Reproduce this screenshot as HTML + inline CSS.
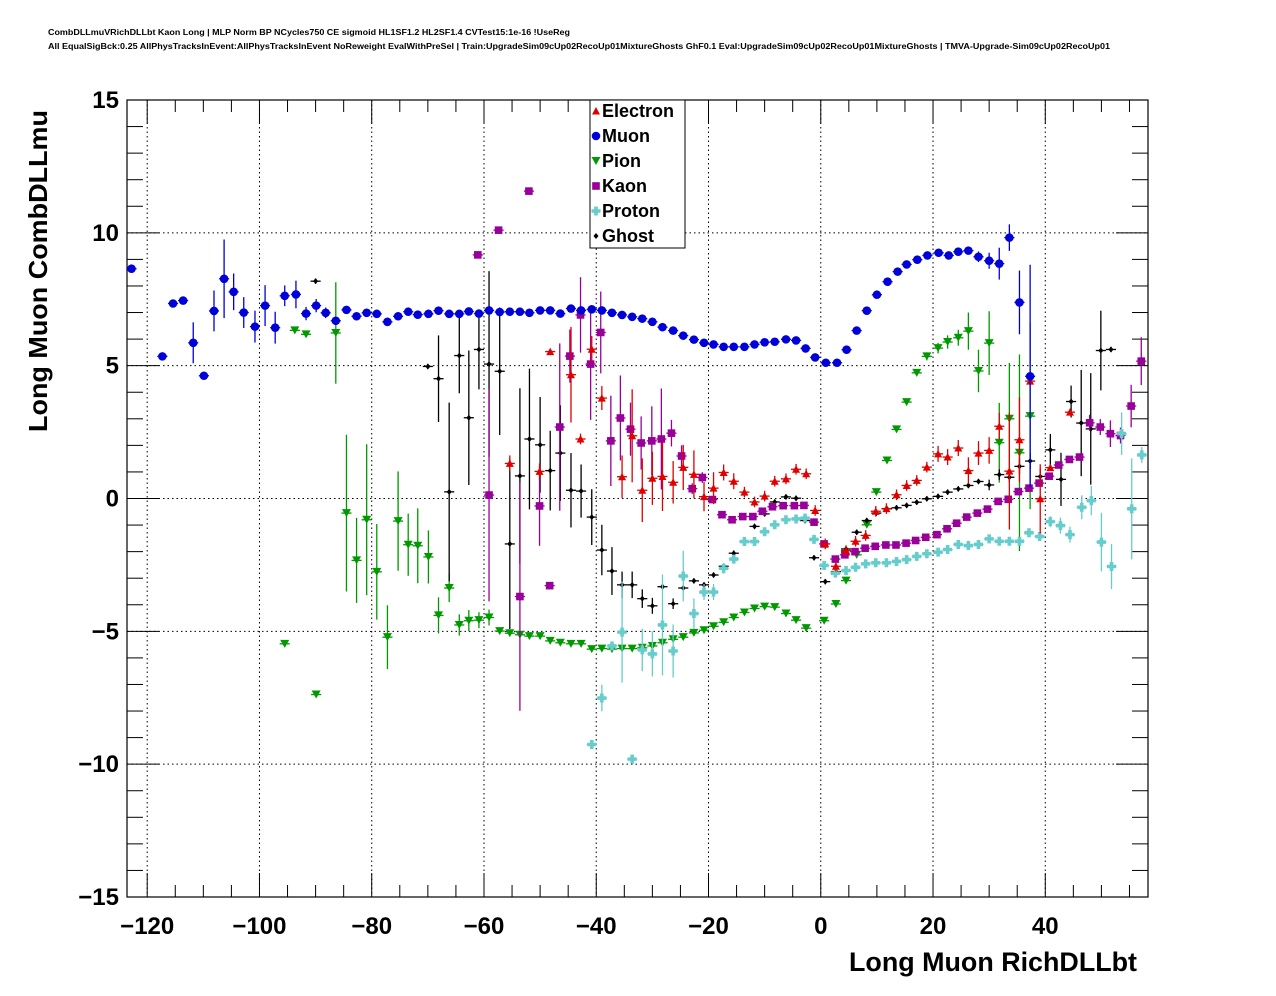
<!DOCTYPE html>
<html><head><meta charset="utf-8"><style>
html,body{margin:0;padding:0;background:#fff;}
svg{display:block;font-family:"Liberation Sans",Arial,sans-serif;}
</style></head><body>
<svg id="chart" width="1276" height="996" viewBox="0 0 1276 996" xmlns="http://www.w3.org/2000/svg">
<rect width="1276" height="996" fill="#fff"/>
<text x="48" y="35" font-size="8" font-weight="bold" textLength="522" lengthAdjust="spacingAndGlyphs">CombDLLmuVRichDLLbt Kaon Long | MLP Norm BP NCycles750 CE sigmoid HL1SF1.2 HL2SF1.4 CVTest15:1e-16 !UseReg</text>
<text x="48" y="49" font-size="8" font-weight="bold" textLength="1062" lengthAdjust="spacingAndGlyphs">All EqualSigBck:0.25 AllPhysTracksInEvent:AllPhysTracksInEvent NoReweight EvalWithPreSel | Train:UpgradeSim09cUp02RecoUp01MixtureGhosts GhF0.1 Eval:UpgradeSim09cUp02RecoUp01MixtureGhosts | TMVA-Upgrade-Sim09cUp02RecoUp01</text>
<g id="grid"></g>
<g id="axes"></g>
<g id="marks"></g>
<text transform="translate(47,432) rotate(-90)" font-size="26" font-weight="bold" textLength="322" lengthAdjust="spacingAndGlyphs">Long Muon CombDLLmu</text>
<text x="1137" y="971" font-size="27" font-weight="bold" text-anchor="end" textLength="288" lengthAdjust="spacingAndGlyphs">Long Muon RichDLLbt</text>
<g id="legend"></g>
</svg>
<script>
// axis ranges
const xMin=-123.6, xMax=58.3, yMin=-15, yMax=15;
const xTicks=[-120,-100,-80,-60,-40,-20,0,20,40];
const xTickLabels=["\u2212120","\u2212100","\u221280","\u221260","\u221240","\u221220","0","20","40"];
const yTicks=[-15,-10,-5,0,5,10,15];
const yTickLabels=["\u221215","\u221210","\u22125","0","5","10","15"];

const muonX=[-122.8,-117.3,-115.4,-113.6,-111.8,-109.9,-108.1,-106.3,-104.6,-102.8,-100.8,-99.0,-97.2,-95.5,-93.5,-91.7,-89.9,-88.2,-86.4,-84.5,-82.7,-80.9,-79.1,-77.2,-75.3,-73.5,-71.8,-69.9,-68.1,-66.2,-64.4,-62.7,-60.9,-59.1,-57.2,-55.4,-53.6,-51.9,-50,-48.2,-46.4,-44.5,-42.7,-40.8,-39,-37.2,-35.4,-33.6,-31.8,-30,-28.2,-26.3,-24.5,-22.6,-20.8,-19.1,-17.3,-15.5,-13.6,-11.8,-10,-8.2,-6.2,-4.4,-2.7,-1.0,0.9,2.9,4.6,6.4,8.2,10,11.9,13.7,15.3,17.2,19,21,22.8,24.5,26.3,28.1,30,31.8,33.6,35.4,37.3];
const muonY=[8.65,5.35,7.34,7.45,5.86,4.62,7.06,8.27,7.78,7.0,6.47,7.26,6.43,7.63,7.68,6.96,7.26,6.99,6.69,7.1,6.86,6.99,6.95,6.65,6.86,7.03,6.92,6.95,7.07,6.95,6.95,7.04,6.96,7.08,7.02,7.03,7.03,6.99,7.08,7.08,6.96,7.15,7.08,7.12,7.08,6.99,6.91,6.84,6.77,6.65,6.45,6.32,6.13,5.98,5.86,5.8,5.71,5.71,5.71,5.8,5.88,5.9,5.99,5.95,5.65,5.31,5.11,5.11,5.6,6.32,7.07,7.67,8.16,8.54,8.81,8.99,9.15,9.25,9.15,9.29,9.33,9.1,8.95,8.84,9.82,7.38,4.6];
const muonErr=[0,0,0,0,0.77,0,0.77,1.48,0.69,0.58,0.6,0.77,0.6,0.39,0.52,0.25,0.25,0.2,0.1,0.1,0.1,0.1,0.1,0.1,0.1,0.1,0.1,0.1,0.1,0.1,0.1,0.1,0.1,0.1,0.1,0.1,0.1,0.1,0.1,0.1,0.1,0.1,0.1,0.1,0.1,0.1,0.1,0.1,0.1,0.1,0.1,0.1,0.1,0.1,0.1,0.1,0.1,0.1,0.1,0.1,0.1,0.1,0.1,0.1,0.1,0.1,0.1,0.1,0.1,0.1,0.1,0.1,0.1,0.1,0.1,0.1,0.1,0.1,0.1,0.1,0.1,0.2,0.3,0.6,0.5,1.2,4.2];

const pionX=[-95.5,-93.7,-91.7,-89.9,-86.4,-84.5,-82.7,-80.9,-79.1,-77.2,-75.3,-73.5,-71.8,-69.9,-68.1,-66.2,-64.4,-62.7,-60.9,-59.1,-57.2,-55.4,-53.6,-51.9,-50,-48.2,-46.4,-44.5,-42.7,-40.8,-39,-37.2,-35.4,-33.6,-31.8,-30,-28.2,-26.3,-24.5,-22.6,-20.8,-19.1,-17.3,-15.5,-13.6,-11.8,-10,-8.2,-6.2,-4.4,-2.6,0.6,2.7,4.5,6.4,8.2,9.9,11.8,13.5,15.3,17.1,18.9,20.9,22.6,24.5,26.3,28.1,30,31.8,33.6,35.4,37.3];
const pionY=[-5.47,6.33,6.18,-7.38,6.23,-0.55,-2.33,-0.8,-2.76,-5.22,-0.85,-1.74,-1.78,-2.2,-4.4,-3.37,-4.76,-4.6,-4.58,-4.48,-4.99,-5.07,-5.13,-5.18,-5.18,-5.36,-5.43,-5.47,-5.47,-5.67,-5.65,-5.67,-5.65,-5.65,-5.62,-5.55,-5.43,-5.3,-5.22,-5.06,-4.96,-4.81,-4.66,-4.48,-4.29,-4.14,-4.07,-4.09,-4.33,-4.58,-4.88,-4.6,-3.97,-3.09,-2.12,-0.99,0.24,1.43,2.6,3.63,4.73,5.35,5.66,5.89,6.05,6.3,4.8,5.85,2.1,3.0,1.72,3.1];
const pionErr=[0,0,0,0,1.91,2.95,1.6,2.84,1.8,1.2,1.87,1.17,1.41,1.0,0.68,0.53,0.4,0.4,0.3,0.3,0.1,0.1,0.1,0.1,0.1,0.1,0.1,0.1,0.1,0.1,0.1,0.1,0.1,0.1,0.1,0.1,0.1,0.1,0.1,0.1,0.1,0.1,0.1,0.1,0.1,0.1,0.1,0.1,0.1,0.1,0.1,0.1,0.1,0.1,0.1,0.1,0.1,0.1,0.1,0.1,0.1,0.15,0.2,0.25,0.3,0.7,0.8,1.2,1.5,2.1,3.7,3.5];

const kaonX=[-61.1,-59.1,-57.4,-53.6,-52.0,-50.1,-48.3,-46.5,-44.7,-42.8,-41,-39.2,-37.4,-35.7,-33.9,-32,-30.1,-28.4,-26.6,-24.8,-22.9,-21.1,-19.3,-17.6,-15.8,-13.9,-12.1,-10.4,-8.6,-6.7,-4.7,-3.0,-1.2,0.6,2.6,4.3,6.1,7.9,9.7,11.6,13.4,15.2,16.9,18.7,20.7,22.5,24.2,26.0,27.9,29.7,31.6,33.4,35.2,37.1,38.9,40.7,42.4,44.3,46.1,47.9,49.8,51.6,53.4,55.3,57.1];
const kaonY=[9.17,0.13,10.1,-3.69,11.57,-0.28,-3.28,2.69,5.36,6.91,5.06,6.25,2.17,3.03,2.61,2.09,2.17,2.24,2.46,1.6,0.37,0.79,-0.04,-0.61,-0.8,-0.68,-0.68,-0.48,-0.31,-0.27,-0.27,-0.26,-0.89,-1.71,-2.28,-2.12,-2.0,-1.87,-1.8,-1.75,-1.75,-1.68,-1.58,-1.46,-1.36,-1.14,-0.93,-0.7,-0.55,-0.4,-0.11,-0.03,0.26,0.39,0.58,0.84,1.26,1.47,1.56,2.85,2.69,2.44,2.37,3.48,5.17];
const kaonErr=[0,4.0,0,4.3,0,1.5,0,3.15,1.0,1.42,2.1,1.54,1.7,1.6,1.0,1.0,1.3,1.9,0.5,0.4,0.2,0.2,0.1,0.1,0.1,0.1,0.1,0.1,0.1,0.1,0.1,0.1,0.1,0.1,0.1,0.1,0.1,0.1,0.1,0.1,0.1,0.1,0.1,0.1,0.1,0.1,0.1,0.1,0.1,0.1,0.1,0.1,0.1,0.1,0.1,0.1,0.1,0.1,0.1,0.3,0.3,0.5,0.3,0.8,0.9];

const electronX=[-55.4,-50.1,-48.2,-44.5,-42.8,-40.8,-39,-35.4,-33.6,-31.8,-30,-28.2,-26.3,-24.5,-22.6,-20.8,-19.1,-17.3,-15.5,-13.6,-11.8,-10,-8.2,-6.2,-4.4,-2.6,-1,0.8,2.7,4.5,6.2,8,9.8,11.7,13.5,15.3,17.1,18.9,20.9,22.6,24.5,26.3,28.1,30,31.8,33.6,35.4,37.3,39.1,40.9,44.4];
const electronY=[1.32,1.02,5.53,4.66,2.24,5.62,3.78,0.82,2.36,0.31,0.76,0.83,0.61,1.17,0.91,0.07,0.39,0.98,0.65,0.24,-0.13,0.09,0.65,0.74,1.1,0.93,-0.45,-1.71,-2.55,-1.96,-1.61,-1.39,-0.48,-0.38,0.14,0.49,0.68,1.18,1.68,1.56,1.9,1.05,1.71,1.81,2.72,1.03,2.21,4.42,-0.01,1.16,3.25];
const electronErr=[0.3,0.3,0,1.8,0.2,0.5,0.45,0.8,1.75,1.2,1.0,1.3,0.8,0.85,0.9,0.55,0.6,0.3,0.3,0.2,0.2,0.2,0.2,0.2,0.2,0.2,0.2,0.2,0.2,0.2,0.2,0.2,0.2,0.2,0.2,0.2,0.2,0.2,0.3,0.3,0.3,0.5,0.45,0.5,0.5,2.2,1.6,0.1,1.3,0.1,0.1];

const protonX=[-40.8,-39,-37.2,-35.4,-33.6,-31.8,-30,-28.2,-26.3,-24.5,-22.6,-20.8,-19.1,-17.3,-15.5,-13.6,-11.8,-10,-8.2,-6.2,-4.4,-2.8,-1.2,0.6,2.6,4.5,6.2,8,9.8,11.7,13.5,15.3,17.1,18.9,20.9,22.6,24.5,26.3,28.1,30,31.8,33.6,35.4,37.1,39,40.9,42.7,44.4,46.5,48.2,50,51.8,53.6,55.4,57.2];
const protonY=[-9.26,-7.51,-5.55,-5.03,-9.81,-5.7,-5.85,-4.76,-5.74,-2.92,-4.33,-3.52,-3.52,-2.63,-2.28,-1.62,-1.62,-1.25,-0.99,-0.8,-0.77,-0.74,-1.54,-2.52,-2.81,-2.71,-2.59,-2.46,-2.42,-2.42,-2.37,-2.3,-2.18,-2.08,-2.02,-1.92,-1.73,-1.77,-1.73,-1.52,-1.61,-1.61,-1.61,-1.29,-1.43,-0.87,-1.02,-1.36,-0.33,-0.08,-1.64,-2.56,2.44,-0.39,1.64];
const protonErr=[0.1,0.5,0.1,1.9,0.1,0.8,0.85,1.9,1.0,0.95,0.57,0.3,0.3,0.2,0.15,0.1,0.1,0.1,0.1,0.1,0.1,0.1,0.1,0.1,0.1,0.1,0.1,0.1,0.1,0.1,0.1,0.1,0.1,0.1,0.1,0.1,0.1,0.1,0.1,0.1,0.1,0.1,0.1,0.1,0.1,0.2,0.3,0.3,0.45,0.55,1.1,0.85,0.8,1.9,0.3];

const ghostX=[-90,-70,-68.1,-66.2,-64.4,-62.7,-60.9,-59.1,-57.2,-55.4,-53.6,-51.9,-50,-48.2,-46.4,-44.5,-42.7,-40.8,-39,-37.2,-35.4,-33.6,-31.8,-30,-28.2,-26.3,-24.5,-22.6,-20.8,-19.1,-17.3,-15.5,-13.6,-11.8,-10,-8.2,-6.2,-4.4,-2.8,-1.2,0.8,2.7,4.5,6.4,8.2,9.9,11.8,13.5,15.3,17.1,18.9,20.9,22.6,24.5,26.3,28.1,30,31.8,33.6,35.4,37.3,39.1,40.9,42.8,44.6,46.4,48.1,49.9,51.7];
const ghostY=[8.18,4.97,4.51,0.25,5.38,3.04,5.61,5.06,4.79,-1.71,0.85,2.24,2.02,1.05,1.71,0.31,0.28,-0.7,-1.94,-2.73,-3.25,-3.25,-3.77,-4.04,-3.32,-3.96,-3.37,-3.1,-3.25,-2.88,-2.55,-2.06,-1.62,-1.05,-0.58,-0.13,0.06,0.01,-0.83,-2.23,-3.13,-2.75,-1.9,-1.27,-0.83,-0.55,-0.39,-0.35,-0.26,-0.14,-0.01,0.08,0.24,0.36,0.49,0.64,0.51,0.9,0.8,1.21,1.41,0.83,1.83,0.72,3.65,2.84,2.62,5.57,5.61];
const ghostErr=[0.1,0.1,1.63,3.36,1.42,2.53,1.5,3.5,2.4,3.2,3.3,2.65,1.8,1.5,1.8,1.4,1.0,1.05,0.95,0.9,0.5,0.5,0.35,0.3,0.1,0.2,0.1,0.1,0.1,0.1,0.1,0.1,0.1,0.1,0.1,0.1,0.1,0.1,0.1,0.1,0.1,0.1,0.1,0.1,0.1,0.1,0.1,0.1,0.1,0.1,0.1,0.1,0.1,0.1,0.1,0.1,0.2,0.2,0.2,0.3,0.3,0.3,0.6,1.0,0.6,2.0,2.1,1.5,0.1];

const legendLabels=["Electron","Muon","Pion","Kaon","Proton","Ghost"];

const NS="http://www.w3.org/2000/svg";
const L=127,R=1148,T=100,B=897;
function sx(v){return L+(v-xMin)/(xMax-xMin)*(R-L);}
function sy(v){return B-(v-yMin)/(yMax-yMin)*(B-T);}
function mk(tag,attrs,parent){const e=document.createElementNS(NS,tag);for(const k in attrs)e.setAttribute(k,attrs[k]);parent.appendChild(e);return e;}

const grid=document.getElementById('grid'), axes=document.getElementById('axes'), marks=document.getElementById('marks'), legend=document.getElementById('legend');
xTicks.forEach(v=>{const l=mk('line',{x1:sx(v),x2:sx(v),y1:T,y2:B,stroke:'#000','stroke-width':1,'stroke-dasharray':'1.5,3'},grid);

});
yTicks.forEach(v=>{if(v===15||v===-15)return;const l=mk('line',{x1:L,x2:R,y1:sy(v),y2:sy(v),stroke:'#000','stroke-width':1,'stroke-dasharray':'1.5,3'},grid);

});
const frame=mk('rect',{x:L,y:T,width:R-L,height:B-T,fill:'none',stroke:'#000','stroke-width':1.2},axes);


for(let v=-120;v<=55;v+=5){const maj=(v%20===0);const len=maj?24:12;
mk('line',{x1:sx(v),x2:sx(v),y1:B,y2:B-len,stroke:'#000'},axes);mk('line',{x1:sx(v),x2:sx(v),y1:T,y2:T+len,stroke:'#000'},axes);}
for(let v=-15;v<=15;v+=1){const maj=(v%5===0);const len=maj?32:16;
mk('line',{x1:L,x2:L+len,y1:sy(v),y2:sy(v),stroke:'#000'},axes);mk('line',{x1:R,x2:R-len,y1:sy(v),y2:sy(v),stroke:'#000'},axes);}
xTicks.forEach((v,i)=>{const t=mk('text',{x:sx(v),y:934,'font-size':24,'font-weight':'bold','text-anchor':'middle'},axes);t.textContent=xTickLabels[i];

});
yTicks.forEach((v,i)=>{const t=mk('text',{x:119,y:sy(v)+8,'font-size':24,'font-weight':'bold','text-anchor':'end'},axes);t.textContent=yTickLabels[i];

});

function marker(type,color,cx,cy,g){
 if(type==='tri-up') mk('polygon',{points:`${cx-4},${cy+3.5} ${cx+4},${cy+3.5} ${cx},${cy-4}`,fill:color},g);
 else if(type==='tri-down') mk('polygon',{points:`${cx-4.5},${cy-4} ${cx+4.5},${cy-4} ${cx},${cy+4}`,fill:color},g);
 else if(type==='circle') mk('circle',{cx:cx,cy:cy,r:4.3,fill:color},g);
 else if(type==='square') mk('rect',{x:cx-3.8,y:cy-3.8,width:7.6,height:7.6,fill:color},g);
 else if(type==='cross') mk('path',{d:`M${cx-1.8},${cy-4.5}h3.6v2.7h2.7v3.6h-2.7v2.7h-3.6v-2.7h-2.7v-3.6h2.7z`,fill:color},g);
 else if(type==='diamond') mk('polygon',{points:`${cx},${cy-3} ${cx+2.5},${cy} ${cx},${cy+3} ${cx-2.5},${cy}`,fill:color},g);
}
function series(name,xs,ys,es,type,color){
 const g=mk('g',{},marks);
 
 
 for(let i=0;i<xs.length;i++){
  const cx=sx(xs[i]),cy=sy(ys[i]);
  mk('line',{x1:sx(xs[i]-0.9),x2:sx(xs[i]+0.9),y1:cy,y2:cy,stroke:color,'stroke-width':1.3},g);
  if(es[i]>0)mk('line',{x1:cx,x2:cx,y1:sy(ys[i]+es[i]),y2:sy(ys[i]-es[i]),stroke:color,'stroke-width':1.3},g);
  marker(type,color,cx,cy,g);
 }
}
const cols={e:'#e00000',mu:'#0000d8',pi:'#009900',k:'#990099',p:'#66cccc',g:'#000000'};
series('pion',pionX,pionY,pionErr,'tri-down',cols.pi);
series('ghost',ghostX,ghostY,ghostErr,'diamond',cols.g);
series('kaon',kaonX,kaonY,kaonErr,'square',cols.k);
series('proton',protonX,protonY,protonErr,'cross',cols.p);
series('electron',electronX,electronY,electronErr,'tri-up',cols.e);
series('muon',muonX,muonY,muonErr,'circle',cols.mu);

const lb=mk('rect',{x:590,y:100,width:95,height:148,fill:'#fff',stroke:'#000','stroke-width':1},legend);


const types=['tri-up','circle','tri-down','square','cross','diamond'];
const lc=[cols.e,cols.mu,cols.pi,cols.k,cols.p,cols.g];
legendLabels.forEach((s,i)=>{const y=111+25*i;const g=mk('g',{},legend);


marker(types[i],lc[i],596,y,g);
const t=mk('text',{x:602,y:y+6,'font-size':18,'font-weight':'bold'},g);t.textContent=s;});
</script>
</body></html>
